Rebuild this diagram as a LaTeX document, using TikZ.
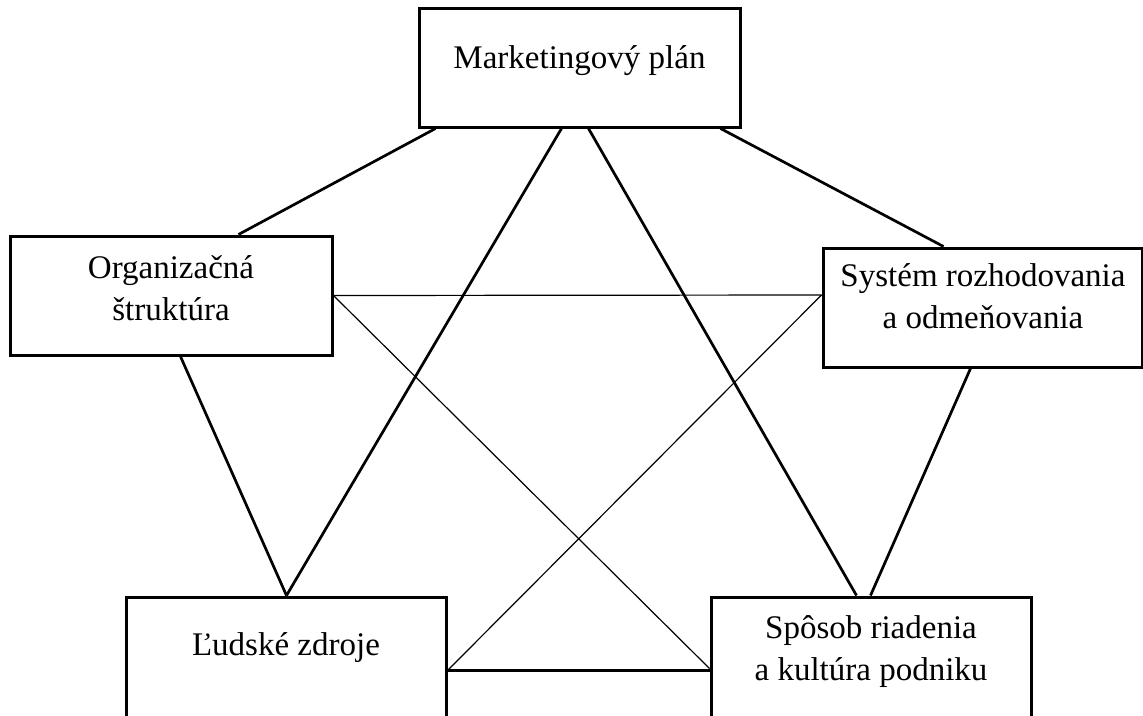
\documentclass[tikz,border=0pt]{standalone}
\usepackage{fontspec}
\setmainfont{Liberation Serif}
\begin{document}
\begin{tikzpicture}[x=1pt,y=-1pt,
  box/.style={draw,line width=3pt,rectangle,inner sep=0pt},
  txt/.style={align=center,inner sep=0pt,font=\fontsize{33}{42}\selectfont},
  thick line/.style={line width=2.7pt},
  thin line/.style={line width=1.2pt}]
\useasboundingbox (0,0) rectangle (1143,715);
\clip (0,0) rectangle (1143,715);
% boxes
\node[box,minimum width=321pt,minimum height=119pt] (mkt) at (579.5,67.5) {};
\node[box,minimum width=322pt,minimum height=119pt] (org) at (171,295.5) {};
\node[box,minimum width=319pt,minimum height=119pt] (sys) at (982.5,307.5) {};
\node[box,minimum width=320pt,minimum height=170pt] (lud) at (286,682) {};
\node[box,minimum width=320pt,minimum height=170pt] (spo) at (871,682) {};
% texts
\node[txt] (mktt) at (579.5,61) {Marketingový plán};
\node[txt] (orgt) at (171,288) {Organizačná\\štruktúra};
\node[txt] (syst) at (983,296.5) {Systém rozhodovania\\a odmeňovania};
\node[txt] (ludt) at (286,648) {Ľudské zdroje};
\node[txt] (spot) at (871,652) {Spôsob riadenia\\a kultúra podniku};
% thick connectors
\draw[thick line] ([xshift=18pt]mkt.south west) -- ([xshift=230pt]org.north west);
\draw[thick line] ([xshift=303pt]mkt.south west) -- ([xshift=122pt]sys.north west);
\draw[thick line] ([xshift=144pt]mkt.south west) -- ([xshift=162pt]lud.north west);
\draw[thick line] ([xshift=171pt]mkt.south west) -- ([xshift=147pt]spo.north west);
\draw[thick line] ([xshift=172pt]org.south west) -- ([xshift=162pt]lud.north west);
\draw[thick line] ([xshift=149pt]sys.south west) -- ([xshift=161pt]spo.north west);
\draw[thick line] ([yshift=-75pt]lud.north east) -- ([yshift=-75pt]spo.north west);
% thin connectors
\draw[thin line] (org.east) -- ([yshift=12.5pt]sys.west);
\draw[thin line] (org.east) -- ([yshift=-73pt]spo.north west);
\draw[thin line] ([yshift=12.5pt]sys.west) -- ([yshift=-75pt]lud.north east);
\end{tikzpicture}
\end{document}
